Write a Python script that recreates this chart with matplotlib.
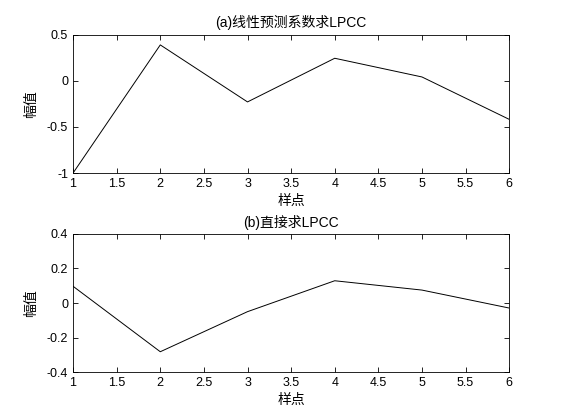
import numpy as np
from matplotlib import pyplot as plt
from matplotlib.ticker import FuncFormatter

plt.rcParams['font.family'] = ['Liberation Sans', 'Noto Sans CJK SC', 'DejaVu Sans']
plt.rcParams['axes.unicode_minus'] = False

SAMPLES = [1, 2, 3, 4, 5, 6]
LPCC_FROM_LPC = [-1.0, 0.391, -0.228, 0.246, 0.043, -0.417]
LPCC_DIRECT = [0.097, -0.282, -0.05, 0.129, 0.075, -0.029]

TITLES = ["(a)线性预测系数求LPCC", "(b)直接求LPCC"]
XLABEL = "样点"
YLABEL = "幅值"
XTICKS = [1, 1.5, 2, 2.5, 3, 3.5, 4, 4.5, 5, 5.5, 6]
YTICKS_A = [-1, -0.5, 0, 0.5]
YTICKS_B = [-0.4, -0.2, 0, 0.2, 0.4]

FS = 9


def style_axes(ax, yticks):
    ax.set_xlim(1, 6)
    ax.set_ylim(yticks[0], yticks[-1])
    ax.set_xticks(XTICKS)
    ax.set_yticks(yticks)
    fmt = FuncFormatter(lambda v, p: "%g" % round(v, 6))
    ax.xaxis.set_major_formatter(fmt)
    ax.yaxis.set_major_formatter(fmt)
    ax.tick_params(direction="in", length=3.6, width=0.6, labelsize=FS,
                   top=True, right=True, pad=3.5)
    for s in ax.spines.values():
        s.set_linewidth(0.6)
    ax.set_xlabel(XLABEL, fontsize=10, va="top")
    ax.xaxis.set_label_coords(0.5, -0.15)
    ax.set_ylabel(YLABEL, fontsize=10, va="center")
    ax.yaxis.set_label_coords(-0.096, 0.5)


def main():
    fig = plt.figure(figsize=(5.62, 4.2), dpi=100)
    ax1 = fig.add_axes([0.130, 0.588, 0.776, 0.329])
    ax2 = fig.add_axes([0.130, 0.114, 0.776, 0.329])

    ax1.plot(SAMPLES, LPCC_FROM_LPC, color="black", linewidth=0.7)
    style_axes(ax1, YTICKS_A)
    ax1.set_title(TITLES[0], fontsize=10, pad=6)

    ax2.plot(SAMPLES, LPCC_DIRECT, color="black", linewidth=0.7)
    style_axes(ax2, YTICKS_B)
    ax2.set_title(TITLES[1], fontsize=10, pad=5)

    fig.savefig("out.png", dpi=100)


if __name__ == "__main__":
    main()
